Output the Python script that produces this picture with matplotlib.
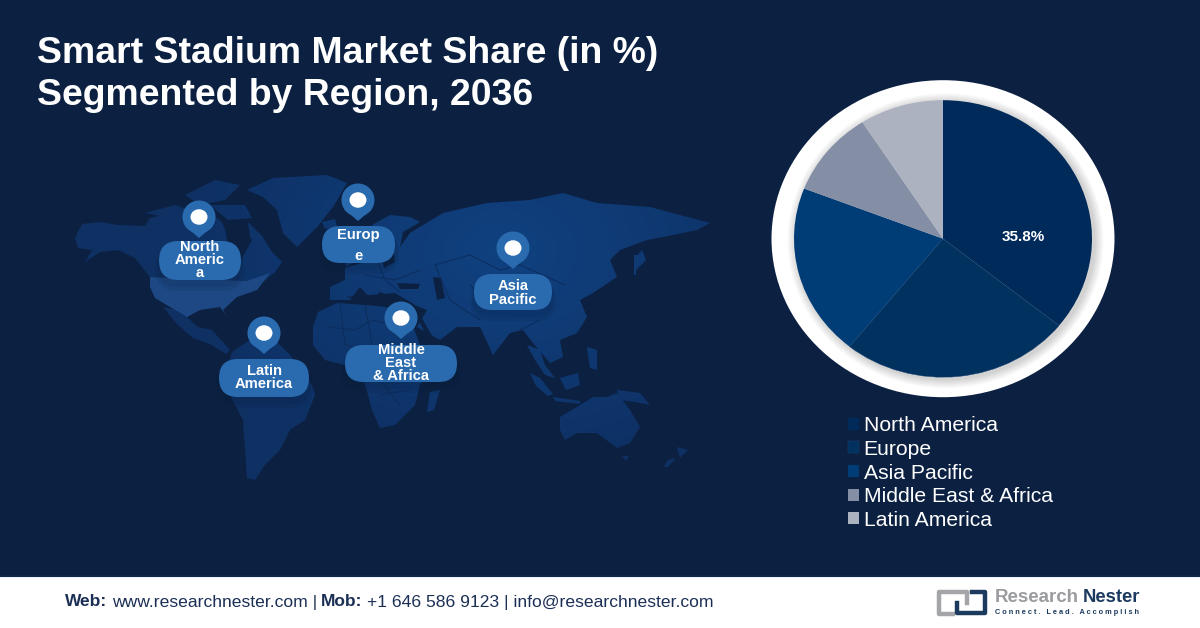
import matplotlib
matplotlib.use("Agg")
import matplotlib.pyplot as plt
import numpy as np
from matplotlib.colors import to_rgb
from matplotlib.patches import Circle, Ellipse, FancyBboxPatch, Polygon, Rectangle
from matplotlib.path import Path

plt.rcParams["font.family"] = ["Liberation Sans", "DejaVu Sans"]

# ---------- Data ----------
regions = ["North America", "Europe", "Asia Pacific", "Middle East & Africa", "Latin America"]
shares = [35.8, 25.0, 20.1, 10.0, 9.1]
slice_colors = ["#002a5a", "#00315f", "#003c75", "#848fa6", "#adb2c1"]

BG = "#0c2142"
USA = "#1d4884"
PILL = "#2a6aae"
NAVY = "#1b2f55"

# ---------- Map outlines (picture pixels, decorative only) ----------
land = [
    # Alaska + Canada
    [(75,238),(82,224),(100,222),(118,225),(145,226),(150,218),(175,212),(190,208),(205,210),(222,222),(232,248),(250,236),(248,222),(262,236),(272,252),(282,262),(275,272),(262,283),(247,281),(150,277),(135,258),(118,250),(100,252),(85,262),(92,250),(78,248)],
    # Arctic islands
    [(145,213),(175,205),(190,210),(170,218)],
    [(185,195),(215,180),(240,185),(225,200),(200,205)],
    [(210,205),(245,205),(252,218),(228,220)],
    # Greenland
    [(247,190),(273,178),(327,175),(347,183),(333,207),(317,227),(297,247),(283,233),(277,210),(263,197)],
    # Mexico, Central America
    [(163,307),(173,309),(187,317),(198,327),(212,330),(230,350),(226,354),(210,344),(193,338),(177,324)],
    # South America
    [(232,352),(250,340),(275,340),(290,355),(312,385),(315,395),(305,420),(290,430),(280,450),(265,465),(255,480),(247,478),(245,450),(243,420),(230,395),(225,375)],
    # Eurasia
    [(330,287),(345,280),(345,268),(365,262),(380,255),(378,235),(372,225),(390,215),(410,217),(420,222),(403,232),(400,247),(410,233),(443,213),(487,203),(530,200),(563,193),(597,203),(650,207),(710,223),(697,230),(663,237),(647,240),(620,250),(610,260),(617,277),(593,293),(580,300),(587,317),(577,333),(560,340),(563,357),(550,363),(533,343),(523,330),(510,333),(493,355),(480,327),(457,327),(440,340),(417,327),(427,310),(393,297),(380,292),(372,300),(360,287),(350,300),(330,300)],
    # UK, Iceland
    [(345,250),(352,246),(356,262),(346,266)],
    [(322,222),(335,219),(337,227),(325,229)],
    # Africa
    [(313,327),(318,312),(337,303),(365,305),(395,308),(410,318),(420,345),(437,362),(420,385),(415,405),(395,425),(380,428),(372,410),(368,395),(362,375),(345,365),(325,360),(313,345)],
    # Madagascar
    [(430,392),(440,390),(434,410),(427,412)],
    # Malay peninsula, Philippines, Japan
    [(527,345),(540,350),(545,365),(555,378),(545,375),(535,360)],
    [(587,347),(597,350),(597,370),(590,368)],
    [(635,258),(642,250),(646,260),(634,272)],
    [(634,255),(637,255),(636,275),(634,275)],
    # Indonesia, New Guinea
    [(530,373),(540,378),(553,394),(548,396),(536,386)],
    [(560,378),(578,373),(580,385),(566,390)],
    [(553,397),(580,401),(580,404),(555,401)],
    [(617,390),(640,393),(650,405),(635,402),(620,400)],
    # Australia
    [(560,417),(577,407),(593,397),(607,397),(617,393),(630,410),(640,427),(630,443),(617,448),(597,433),(577,433),(565,440),(560,430)],
    [(622,456),(629,456),(626,461)],
    [(677,447),(688,450),(680,458)],
    [(668,460),(676,458),(668,467),(664,467)],
]
usa = [(150,277),(247,281),(270,273),(257,290),(237,297),(223,310),(227,317),(220,307),(200,310),(187,317),(170,307),(155,298),(150,287)]
water = [
    [(225,225),(240,222),(252,240),(240,262),(228,250)],       # Hudson Bay
    [(397,283),(420,284),(418,289),(400,289)],                 # Black Sea
    [(433,277),(441,278),(445,298),(437,300)],                 # Caspian
    [(345,297),(395,293),(415,305),(395,303),(365,300)],       # Mediterranean
    [(417,317),(422,318),(437,345),(432,346)],                 # Red Sea
    [(380,248),(392,240),(395,262),(384,268)],                 # Baltic
]
borders = [
    [(330,327),(355,330),(372,320),(395,325)],
    [(340,303),(345,345),(375,352)],
    [(365,305),(372,345),(395,350)],
    [(380,395),(410,390)],
    [(376,375),(400,405)],
    [(365,275),(395,280),(420,270)],
    [(375,255),(385,280),(400,292)],
    [(435,265),(470,255),(500,270),(520,265),(565,285)],
    [(435,265),(450,300),(480,320)],
    [(470,285),(490,305)],
    [(520,330),(540,320)],
]

pins = [
    (199, 217, "North\nAmeric\na", 159, 241, 241, 280, 0.92, 0),
    (358, 200, "Europ\ne", 322, 395, 226, 263, 1.55, 1.5),
    (513, 248, "Asia\nPacific", 474, 552, 274, 310, 0.92, 1.5),
    (401, 318, "Middle\nEast\n& Africa", 345, 457, 345, 382, 0.92, 0),
    (264, 333, "Latin\nAmerica", 219, 309, 359, 397, 0.92, 0),
]


def pill(x0, x1, y0, y1, **kw):
    h = y1 - y0
    return FancyBboxPatch((x0 + h / 2, y0 + h / 2), x1 - x0 - h, 0.01,
                          boxstyle=f"round,pad={h / 2},rounding_size={h / 2}", ec="none", **kw)


# ---------- Canvas in picture pixels ----------
fig = plt.figure(figsize=(12, 6.28), dpi=100, facecolor=BG)
ax = fig.add_axes([0, 0, 1, 1])

# land: brighter in the middle of the map, fading to the edges
yy, xx = np.mgrid[170:490, 60:720]
dist = np.clip(np.hypot((xx - 500) / 320, (yy - 250) / 230), 0, 1)[..., None]
glow = np.array(to_rgb("#104180")) * (1 - dist) + np.array(to_rgb("#0e3063")) * dist
im = ax.imshow(glow, extent=(60, 720, 490, 170), zorder=1, aspect="auto")
im.set_clip_path(Path.make_compound_path(*[Path(p + [p[0]], closed=True) for p in land]), transform=ax.transData)

ax.set_xlim(0, 1200)
ax.set_ylim(628, 0)
ax.axis("off")

for poly in water:
    ax.add_patch(Polygon(poly, closed=True, fc=BG, ec="none", zorder=1.5))
ax.add_patch(Polygon(usa, closed=True, fc=USA, ec="none", zorder=1.6))
for line in borders:
    xs, ys = zip(*line)
    ax.plot(xs, ys, color="#0c2c5c", lw=0.7, zorder=1.7)

# pins and pills
for px, py, label, x0, x1, y0, y1, spacing, nudge in pins:
    for grow in (8, 4):
        ax.add_patch(pill(x0 - grow / 2, x1 + grow / 2, y0 + 6, y1 + 3 + grow, fc="#081a36", alpha=0.1, zorder=2.5))
    ax.add_patch(pill(x0, x1, y0, y1, fc=PILL, zorder=3))
    ax.add_patch(Circle((px, py), 16.5, fc=PILL, ec="none", zorder=4))
    ax.add_patch(Polygon([(px - 14, py + 9), (px + 14, py + 9), (px, py + 21)], closed=True, fc=PILL, ec="none", zorder=4))
    ax.add_patch(Ellipse((px, py), 17, 15.5, fc="white", ec="none", zorder=5))
    ax.text((x0 + x1) / 2, (y0 + y1) / 2 - 0.5 + nudge, label, color="white", fontsize=10.6, fontweight="bold",
            ha="center", va="center", linespacing=spacing, zorder=6)

# title
ax.text(37, 53.5, "Smart Stadium Market Share (in %)", color="white", fontsize=26.9, fontweight="bold", va="center")
ax.text(37, 95.5, "Segmented by Region, 2036", color="white", fontsize=26.9, fontweight="bold", va="center")

# white ring round the pie, with its soft shadow towards the lower right
cx, cy, rx, ry = 943, 238.7, 149, 138.5
ax.add_patch(Ellipse((cx, cy), 343, 317, fc="white", ec="none", zorder=2))
for grow in np.arange(9, 0, -1):
    ax.add_patch(Ellipse((cx + 2.5, cy + 2), 2 * rx + 2 * grow, 2 * ry + 2 * grow, fc="black", alpha=0.018, ec="none", zorder=2))

# footer
ax.add_patch(Rectangle((0, 576), 1200, 52, fc="white", ec="none", zorder=2))
ax.plot([0, 1200], [576, 576], color="#10264a", lw=1.5, zorder=3)
ax.text(65, 602, "Web:", color=NAVY, fontsize=12.5, fontweight="bold", va="center", zorder=3)
ax.text(112, 602, "www.researchnester.com |", color=NAVY, fontsize=12.6, va="center", zorder=3)
ax.text(321, 602, "Mob:", color=NAVY, fontsize=12.5, fontweight="bold", va="center", zorder=3)
ax.text(367, 602, "+1 646 586 9123 | info@researchnester.com", color=NAVY, fontsize=12.6, va="center", zorder=3)

# logo
ax.plot([967, 967, 939, 939, 953], [603, 592, 592, 614, 614], color="#a3a5a8", lw=3.2, solid_joinstyle="round", zorder=3)
ax.plot([972, 985, 985, 957, 957], [592, 592, 613, 613, 603], color="#1c3a5e", lw=3.2, solid_joinstyle="round", zorder=3)
ax.text(995, 598, "Research", color="#9a9ca0", fontsize=13.5, fontweight="bold", va="center", zorder=3)
ax.text(1083, 598, "Nester", color="#1c3a5e", fontsize=13.2, fontweight="bold", va="center", zorder=3)
ax.text(995, 613, "C o n n e c t .   L e a d .   A c c o m p l i s h", color="#1c3a5e", fontsize=5.3, fontweight="bold",
        va="center", zorder=3)

# ---------- Pie (the picture is stretched, so the pie is wider than tall) ----------
pie_ax = fig.add_axes([(cx - rx) / 1200, 1 - (cy + ry) / 628, 2 * rx / 1200, 2 * ry / 628])
pie_ax.patch.set_alpha(0)
wedges, _ = pie_ax.pie(shares, colors=slice_colors, startangle=90, counterclock=False, radius=1)
pie_ax.set_aspect("auto")
pie_ax.set_xlim(-1, 1)
pie_ax.set_ylim(-1, 1)
wedges[1].set_edgecolor("#1c4474")
wedges[1].set_linewidth(0.3)
pie_ax.text(0.537, 0.015, f"{shares[0]}%", color="white", fontsize=11, fontweight="bold", ha="center", va="center")

fig.legend(wedges, regions, loc="upper left", bbox_to_anchor=(844 / 1200, 1 - 412 / 628), frameon=False,
           fontsize=15.2, labelcolor="white", handlelength=0.53, handleheight=0.5, handletextpad=0.2,
           labelspacing=0.22, borderpad=0.2, borderaxespad=0)

fig.savefig("out.png", dpi=100, facecolor=BG)
